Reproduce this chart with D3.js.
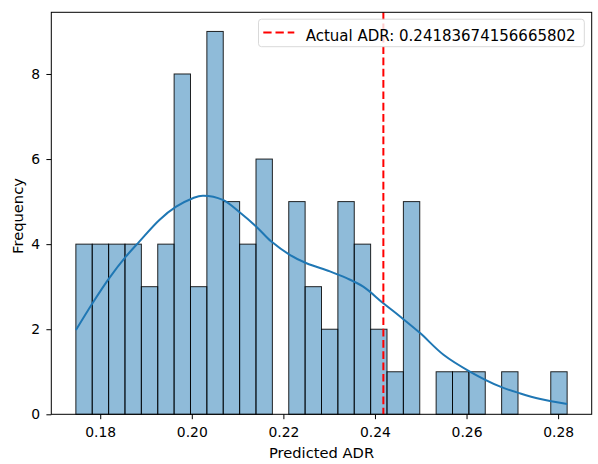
<!DOCTYPE html>
<html>
<head>
<meta charset="utf-8">
<script src="https://cdn.jsdelivr.net/npm/d3@7"></script>
<style>
  html, body { margin: 0; padding: 0; background: #fff; }
  svg { display: block; }
  text { font-family: "DejaVu Sans", sans-serif; }
</style>
</head>
<body>
<svg id="chart" width="598" height="464"></svg>
<script>
// ---- data ----
const binMin = 0.17468;
const binMax = 0.28197;
const counts = [4,4,4,4,3,4,8,3,9,5,4,6,0,5,3,2,5,4,2,1,5,0,1,1,1,0,1,0,0,1];
const kdeX = [0.1747,0.17831,0.18197,0.18563,0.18854,0.19292,0.19658,0.20021,0.2024,0.20678,0.21044,0.2141,0.21738,0.22139,0.22505,0.23015,0.23381,0.23744,0.24183,0.24548,0.24986,0.25497,0.26081,0.26738,0.27176,0.27614,0.28197];
const kdeY = [1.98,2.61,3.20,3.71,4.06,4.57,4.88,5.08,5.14,5.04,4.75,4.41,4.06,3.75,3.55,3.36,3.20,3.00,2.61,2.30,1.91,1.40,1.00,0.65,0.49,0.36,0.24];
const actualADR = 0.24183674156665802;
const xTicks = [0.18,0.20,0.22,0.24,0.26,0.28];
const yTicks = [0,2,4,6,8];

// ---- layout ----
const W = 598, H = 464;
const m = {left: 51.3, right: 6.3, top: 12.3, bottom: 49.7};
const pw = W - m.left - m.right, ph = H - m.top - m.bottom;
const svg = d3.select("#chart");
const g = svg.append("g").attr("transform", `translate(${m.left},${m.top})`);

const span = binMax - binMin;
const x = d3.scaleLinear().domain([binMin - 0.05*span, binMax + 0.05*span]).range([0, pw]);
const y = d3.scaleLinear().domain([0, 9.45]).range([ph, 0]);

const bw = span / counts.length;
const bins = counts.map((c, i) => ({x0: binMin + i*bw, x1: binMin + (i+1)*bw, c}));

// bars
g.selectAll("rect.bar").data(bins.filter(b => b.c > 0)).join("rect")
  .attr("class", "bar")
  .attr("x", d => x(d.x0))
  .attr("y", d => y(d.c))
  .attr("width", d => x(d.x1) - x(d.x0))
  .attr("height", d => y(0) - y(d.c))
  .attr("fill", "#1f77b4").attr("fill-opacity", 0.5)
  .attr("stroke", "#000").attr("stroke-opacity", 0.85).attr("stroke-width", 1);

// KDE
const line = d3.line().x((d, i) => x(kdeX[i])).y(d => y(d)).curve(d3.curveCatmullRom);
g.append("path").datum(kdeY).attr("d", line)
  .attr("fill", "none").attr("stroke", "#1f77b4").attr("stroke-width", 2);

// actual line
g.append("line")
  .attr("x1", x(actualADR)).attr("x2", x(actualADR))
  .attr("y1", 0).attr("y2", ph)
  .attr("stroke", "red").attr("stroke-width", 2).attr("stroke-dasharray", "7.7,3.6");

// axes
const xAxis = g.append("g").attr("transform", `translate(0,${ph})`)
  .call(d3.axisBottom(x).tickValues(xTicks).tickFormat(d3.format(".2f")).tickSize(4.9).tickPadding(7.9));
const yAxis = g.append("g")
  .call(d3.axisLeft(y).tickValues(yTicks).tickFormat(d3.format("d")).tickSize(4.9).tickPadding(6.4));
[xAxis, yAxis].forEach(a => {
  a.selectAll("text").attr("font-size", 13.9).attr("fill", "#000").attr("font-family", "DejaVu Sans, sans-serif");
  a.selectAll("line").attr("stroke", "#000");
  a.select(".domain").remove();
});
xAxis.selectAll("text").attr("dy", "0.71em");

// frame
g.append("rect").attr("x", 0).attr("y", 0).attr("width", pw).attr("height", ph)
  .attr("fill", "none").attr("stroke", "#000").attr("stroke-width", 1);

// labels
svg.append("text").attr("x", m.left + pw/2).attr("y", 458)
  .attr("text-anchor", "middle").attr("font-size", 14.7).text("Predicted ADR");
svg.append("text").attr("transform", `translate(22.5,216) rotate(-90)`)
  .attr("text-anchor", "middle").attr("font-size", 14.7).text("Frequency");

// legend
const lg = svg.append("g");
lg.append("rect").attr("x", 258.5).attr("y", 19.2).attr("width", 325.8).attr("height", 27.5)
  .attr("rx", 3).attr("fill", "#fff").attr("fill-opacity", 0.8).attr("stroke", "#d9d9d9");
lg.append("line").attr("x1", 263.3).attr("x2", 294.3).attr("y1", 32.5).attr("y2", 32.5)
  .attr("stroke", "red").attr("stroke-width", 2).attr("stroke-dasharray", "8.3,3.9");
lg.append("text").attr("x", 305.7).attr("y", 41).attr("font-size", 15).text("Actual ADR: " + actualADR);
</script>
</body>
</html>
